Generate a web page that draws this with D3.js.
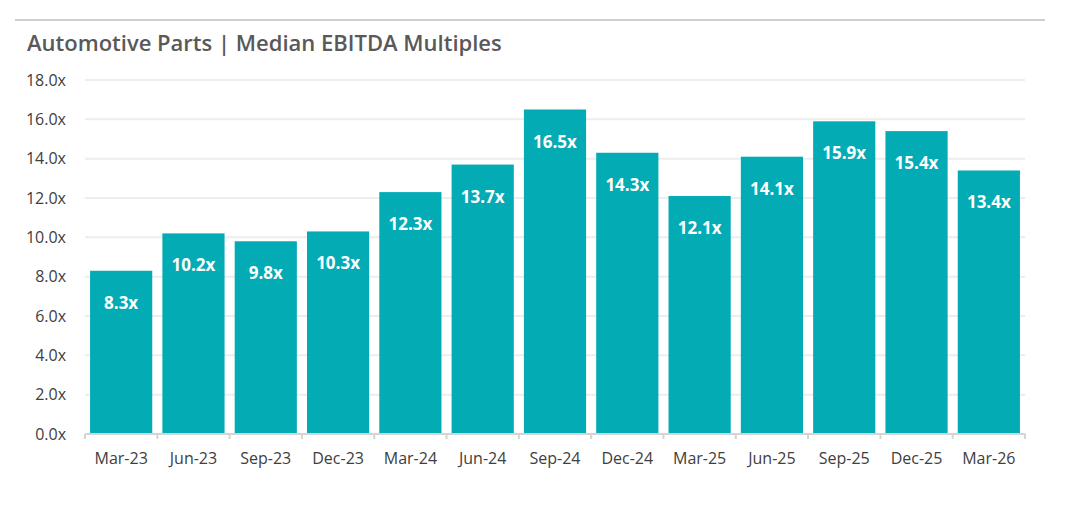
<!DOCTYPE html>
<html lang="en">
<head>
  <meta charset="UTF-8">
  <title>Automotive Parts | Median EBITDA Multiples</title>
  <script src="https://d3js.org/d3.v7.min.js"></script>
  <style>
    body { margin: 0; background: #fff; font-family: "Open Sans", sans-serif; }
    .title { font-size: 22px; font-weight: 600; fill: #595959; }
    .tick text { font-family: "Open Sans", sans-serif; font-size: 16px; fill: #404040; }
    .label { font-family: "Open Sans", sans-serif; font-size: 17px; font-weight: 700; fill: #fff; text-anchor: middle; }
  </style>
</head>
<body>
  <svg width="1072" height="506"></svg>
  <script>
    var quarters = ["Mar-23", "Jun-23", "Sep-23", "Dec-23", "Mar-24", "Jun-24", "Sep-24",
                    "Dec-24", "Mar-25", "Jun-25", "Sep-25", "Dec-25", "Mar-26"];
    var multiples = [8.3, 10.2, 9.8, 10.3, 12.3, 13.7, 16.5, 14.3, 12.1, 14.1, 15.9, 15.4, 13.4];
    var yTicks = [0, 2, 4, 6, 8, 10, 12, 14, 16, 18];

    var svg = d3.select("svg"),
        margin = {top: 80, right: 47, bottom: 72, left: 85},
        width = 1072 - margin.left - margin.right,
        height = 506 - margin.top - margin.bottom;

    // top rule + title
    svg.append("line")
        .attr("x1", 15).attr("x2", 1045).attr("y1", 20).attr("y2", 20)
        .style("stroke", "#cfcfcf").style("stroke-width", 2);
    svg.append("text")
        .attr("class", "title")
        .attr("x", 27).attr("y", 51)
        .text("Automotive Parts | Median EBITDA Multiples");

    var g = svg.append("g").attr("transform", "translate(" + margin.left + "," + margin.top + ")");

    var x = d3.scaleBand().domain(quarters).range([0, width]).paddingInner(0.14).paddingOuter(0.07),
        y = d3.scaleLinear().domain([0, 18]).range([height, 0]);

    // gridlines
    g.selectAll(".grid")
      .data(yTicks.slice(1))
      .enter().append("line")
        .attr("x1", 0).attr("x2", width)
        .attr("y1", function(d) { return y(d); })
        .attr("y2", function(d) { return y(d); })
        .style("stroke", "#ededed").style("stroke-width", 2);

    // y axis labels
    var yAxis = g.append("g")
        .call(d3.axisLeft(y).tickValues(yTicks).tickSize(0).tickPadding(19)
          .tickFormat(function(d) { return d3.format(".1f")(d) + "x"; }));
    yAxis.select(".domain").remove();

    // bars
    g.selectAll(".bar")
      .data(multiples)
      .enter().append("rect")
        .attr("x", function(d, i) { return x(quarters[i]); })
        .attr("width", x.bandwidth())
        .attr("y", function(d) { return y(d); })
        .attr("height", function(d) { return height - y(d); })
        .style("fill", "#03abb5");

    g.selectAll(".label")
      .data(multiples)
      .enter().append("text")
        .attr("class", "label")
        .attr("x", function(d, i) { return x(quarters[i]) + x.bandwidth() / 2; })
        .attr("y", function(d) { return y(d) + 38; })
        .text(function(d) { return d3.format(".1f")(d) + "x"; });

    // x axis with ticks at category boundaries
    var xAxis = g.append("g")
        .attr("transform", "translate(0," + height + ")")
        .call(d3.axisBottom(x).tickSize(0).tickPadding(19));
    xAxis.select(".domain").remove();
    xAxis.append("line")
        .attr("x1", 0).attr("x2", width)
        .style("stroke", "#d4d4d4").style("stroke-width", 2);
    xAxis.selectAll(".sep")
      .data(d3.range(quarters.length + 1))
      .enter().append("line")
        .attr("x1", function(d) { return d * x.step(); })
        .attr("x2", function(d) { return d * x.step(); })
        .attr("y1", 0).attr("y2", 5)
        .style("stroke", "#d4d4d4").style("stroke-width", 2);
  </script>
</body>
</html>
